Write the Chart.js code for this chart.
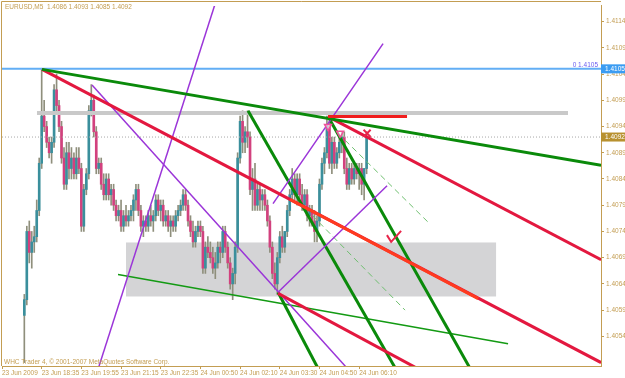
<!DOCTYPE html>
<html>
<head>
<meta charset="utf-8">
<script src="https://cdn.jsdelivr.net/npm/chart.js@4.4.1/dist/chart.umd.min.js"></script>
<style>
  html, body { margin: 0; padding: 0; background: #fff; }
  canvas { display: block; }
</style>
</head>
<body>
<canvas id="eurusdChart" width="625" height="378"></canvas>
<script>
// EURUSD M5 bars, first candle sits at bar 9
const firstBar = 9;
const opens = [
  1.4058,1.4061,1.4074,1.4070,1.4072,1.4073,1.4078,1.4087,1.4096,1.4094,
  1.4091,1.4089,1.4091,1.4101,1.4098,1.4094,1.4088,1.4083,1.4089,1.4086,
  1.4088,1.4085,1.4088,1.4086,1.4075,1.4082,1.4085,1.4097,1.4099,1.4093,
  1.4086,1.4087,1.4083,1.4081,1.4084,1.4081,1.4082,1.4079,1.4077,1.4078,
  1.4075,1.4077,1.4076,1.4077,1.4078,1.4080,1.4082,1.4078,1.4075,1.4076,
  1.4075,1.4077,1.4076,1.4077,1.4080,1.4078,1.4079,1.4076,1.4077,1.4075,
  1.4076,1.4075,1.4077,1.4078,1.4079,1.4081,1.4079,1.4076,1.4074,1.4072,
  1.4074,1.4075,1.4074,1.4067,1.4071,1.4070,1.4069,1.4067,1.4068,1.4071,
  1.4070,1.4074,1.4071,1.4068,1.4064,1.4066,1.4071,1.4088,1.4095,1.4091,
  1.4093,1.4092,1.4082,1.4084,1.4079,1.4082,1.4080,1.4081,1.4079,1.4076,
  1.4071,1.4066,1.4064,1.4069,1.4073,1.4071,1.4074,1.4078,1.4081,1.4084,
  1.4081,1.4084,1.4081,1.4079,1.4081,1.4077,1.4078,1.4076,1.4074,1.4076,
  1.4083,1.4087,1.4089,1.4094,1.4087,1.4091,1.4087,1.4089,1.4091,1.4092,
  1.4086,1.4083,1.4086,1.4084,1.4086,1.4085,1.4086,1.4083,1.4086
];
const highs = [
  1.4062,1.4075,1.4076,1.4074,1.4075,1.4080,1.4088,1.4105,1.4099,1.4095,
  1.4092,1.4092,1.4102,1.4104,1.4099,1.4095,1.4090,1.4091,1.4091,1.4090,
  1.4089,1.4090,1.4090,1.4087,1.4083,1.4086,1.4098,1.4102,1.4100,1.4094,
  1.4088,1.4088,1.4085,1.4085,1.4085,1.4083,1.4083,1.4080,1.4079,1.4080,
  1.4078,1.4079,1.4078,1.4079,1.4081,1.4083,1.4083,1.4079,1.4077,1.4077,
  1.4078,1.4079,1.4078,1.4081,1.4081,1.4080,1.4080,1.4078,1.4078,1.4077,
  1.4077,1.4078,1.4079,1.4080,1.4082,1.4082,1.4080,1.4077,1.4076,1.4075,
  1.4076,1.4076,1.4075,1.4072,1.4073,1.4072,1.4071,1.4070,1.4072,1.4072,
  1.4075,1.4075,1.4072,1.4069,1.4067,1.4072,1.4089,1.4096,1.4097,1.4094,
  1.4097,1.4093,1.4086,1.4087,1.4083,1.4083,1.4082,1.4082,1.4080,1.4077,
  1.4072,1.4068,1.4070,1.4074,1.4075,1.4074,1.4079,1.4082,1.4086,1.4085,
  1.4085,1.4085,1.4083,1.4082,1.4082,1.4079,1.4079,1.4078,1.4077,1.4084,
  1.4088,1.4090,1.4096,1.4095,1.4092,1.4092,1.4090,1.4092,1.4093,1.4093,
  1.4088,1.4087,1.4087,1.4087,1.4087,1.4087,1.4087,1.4086,1.4093
];
const lows = [
  1.4049,1.4060,1.4068,1.4067,1.4070,1.4072,1.4077,1.4086,1.4093,1.4090,
  1.4088,1.4087,1.4090,1.4097,1.4093,1.4087,1.4082,1.4082,1.4084,1.4084,
  1.4084,1.4084,1.4085,1.4074,1.4074,1.4081,1.4084,1.4096,1.4092,1.4085,
  1.4085,1.4082,1.4080,1.4080,1.4080,1.4079,1.4078,1.4076,1.4076,1.4074,
  1.4074,1.4075,1.4075,1.4076,1.4076,1.4078,1.4077,1.4074,1.4073,1.4074,
  1.4074,1.4075,1.4074,1.4076,1.4077,1.4076,1.4075,1.4075,1.4074,1.4073,
  1.4074,1.4074,1.4076,1.4077,1.4078,1.4078,1.4075,1.4073,1.4071,1.4071,
  1.4073,1.4073,1.4066,1.4066,1.4069,1.4068,1.4066,1.4065,1.4067,1.4068,
  1.4069,1.4070,1.4067,1.4063,1.4061,1.4064,1.4070,1.4087,1.4089,1.4089,
  1.4090,1.4081,1.4078,1.4078,1.4078,1.4078,1.4078,1.4078,1.4075,1.4070,
  1.4065,1.4063,1.4062,1.4068,1.4070,1.4070,1.4073,1.4077,1.4080,1.4080,
  1.4079,1.4080,1.4078,1.4078,1.4076,1.4075,1.4075,1.4072,1.4072,1.4075,
  1.4082,1.4085,1.4088,1.4086,1.4085,1.4086,1.4086,1.4088,1.4089,1.4085,
  1.4082,1.4082,1.4083,1.4083,1.4084,1.4082,1.4081,1.4080,1.4085
];
const closes = [
  1.4061,1.4074,1.4070,1.4072,1.4073,1.4078,1.4087,1.4096,1.4094,1.4091,
  1.4089,1.4091,1.4101,1.4098,1.4094,1.4088,1.4083,1.4089,1.4086,1.4088,
  1.4085,1.4088,1.4086,1.4075,1.4082,1.4085,1.4097,1.4099,1.4093,1.4086,
  1.4087,1.4083,1.4081,1.4084,1.4081,1.4082,1.4079,1.4077,1.4078,1.4075,
  1.4077,1.4076,1.4077,1.4078,1.4080,1.4082,1.4078,1.4075,1.4076,1.4075,
  1.4077,1.4076,1.4077,1.4080,1.4078,1.4079,1.4076,1.4077,1.4075,1.4076,
  1.4075,1.4077,1.4078,1.4079,1.4081,1.4079,1.4076,1.4074,1.4072,1.4074,
  1.4075,1.4074,1.4067,1.4071,1.4070,1.4069,1.4067,1.4068,1.4071,1.4070,
  1.4074,1.4071,1.4068,1.4064,1.4066,1.4071,1.4088,1.4095,1.4091,1.4093,
  1.4092,1.4082,1.4084,1.4079,1.4082,1.4080,1.4081,1.4079,1.4076,1.4071,
  1.4066,1.4064,1.4069,1.4073,1.4071,1.4074,1.4078,1.4081,1.4084,1.4081,
  1.4084,1.4081,1.4079,1.4081,1.4077,1.4078,1.4076,1.4074,1.4076,1.4083,
  1.4087,1.4089,1.4094,1.4087,1.4091,1.4087,1.4089,1.4091,1.4092,1.4086,
  1.4083,1.4086,1.4084,1.4086,1.4085,1.4086,1.4083,1.4086,1.4092
];

// axes
const xTickBars = [0, 16, 32, 48, 64, 80, 96, 112, 128, 144];
const xTickLabels = ["23 Jun 2009", "23 Jun 18:35", "23 Jun 19:55", "23 Jun 21:15", "23 Jun 22:35",
  "24 Jun 00:50", "24 Jun 02:10", "24 Jun 03:30", "24 Jun 04:50", "24 Jun 06:10"];
const priceTicks = [1.4054, 1.4059, 1.4064, 1.4069, 1.4074, 1.4079, 1.4084, 1.4089, 1.4094, 1.4099, 1.4104, 1.4109, 1.4114];
const priceMin = 1.404835;
const priceMax = 1.41170;
const barMax = 241.5;

// price levels
const levelPrice = 1.4105;
const bidPrice = 1.4092;
const resistance = [[14.1, 1.40966], [228.2, 1.40966]];
const topMark = [[131.45, 1.40959], [163.3, 1.40959]];

// trend lines: [bar, price] end points
const redMain = [[16.13, 1.41049], [241.53, 1.40490]];
const redOrange = [[116.13, 1.40801], [192.0, 1.40612]];
const greenMain = [[16.13, 1.41049], [241.53, 1.40866]];
const redUpper = [[131.45, 1.40959], [241.53, 1.40686]];
const redLower = [[111.29, 1.40622], [167.0, 1.40480]];
const purpleDown = [[36.29, 1.41019], [139.0, 1.40480]];
const purpleSteep = [[38.9, 1.40480], [86.0, 1.41175]];
const purpleChanLow = [[111.29, 1.40624], [155.24, 1.40827]];
const purpleChanHigh = [[109.27, 1.40793], [153.63, 1.41098]];
const greenFanA = [[99.19, 1.40970], [158.5, 1.40480]];
const greenFanB = [[131.45, 1.40959], [188.6, 1.40480]];
const greenFanC = [[111.29, 1.40624], [127.3, 1.40480]];
const greenBase = [[46.77, 1.40658], [204.03, 1.40526]];
const dashedA = [[138.31, 1.40914], [172.58, 1.40754]];
const dashedB = [[125.0, 1.40771], [162.5, 1.40590]];

// zone box and markers
const zoneBars = [50, 199.2];
const zonePrices = [1.40719, 1.40616];
const downArrows = [[131.45, 1.40940], [136.3, 1.40927]];
const crossMark = [[147.2, 1.40927]];
const checkMark = [[155.2, 1.40733], [156.9, 1.40720], [160.9, 1.40741]];

const gold = "#c39d52";
const fontFamily = "'Liberation Sans', Arial, sans-serif";

const pts = (arr) => arr.map(([x, y]) => ({ x: x, y: y }));
const bullColor = "#3a8f9c";
const bearColor = "#d2417e";

const bodies = opens.map((o, i) => ({ x: firstBar + i, y: [o, closes[i]] }));
const wicks = lows.map((l, i) => ({ x: firstBar + i, y: [l, highs[i]] }));

function trend(data, color, width, extra) {
  return Object.assign({
    type: "line",
    data: pts(data),
    borderColor: color,
    borderWidth: width,
    pointRadius: 0,
    fill: false,
    tension: 0,
    order: 1,
  }, extra || {});
}

const chartFrame = {
  id: "chartFrame",
  beforeDatasetsDraw(chart) {
    const { ctx, scales: { x, y } } = chart;
    const x0 = x.getPixelForValue(zoneBars[0]);
    const x1 = x.getPixelForValue(zoneBars[1]);
    const y0 = y.getPixelForValue(zonePrices[0]);
    const y1 = y.getPixelForValue(zonePrices[1]);
    ctx.save();
    ctx.fillStyle = "#d4d4d6";
    ctx.fillRect(x0, y0, x1 - x0, y1 - y0);
    ctx.restore();
  },
  afterDraw(chart) {
    const { ctx, chartArea, scales: { y } } = chart;
    ctx.save();
    // left and top frame
    ctx.strokeStyle = gold;
    ctx.lineWidth = 1;
    ctx.beginPath();
    ctx.moveTo(1.5, chartArea.bottom);
    ctx.lineTo(1.5, 1.5);
    ctx.lineTo(chartArea.right, 1.5);
    ctx.stroke();

    ctx.font = "6.5px " + fontFamily;
    ctx.textBaseline = "middle";
    ctx.fillStyle = gold;
    ctx.textAlign = "left";
    ctx.fillText("EURUSD,M5  1.4086 1.4093 1.4085 1.4092", 5, 7);
    ctx.fillText("WHC Trader 4, \u00a9 2001-2007 MetaQuotes Software Corp.", 4, 362);

    // level caption
    const ly = y.getPixelForValue(levelPrice);
    ctx.fillStyle = "#6a5cf0";
    ctx.textAlign = "right";
    ctx.fillText("0 1.4105", chartArea.right - 3, ly - 4);

    // price boxes on the axis
    const boxes = [[levelPrice, "#3b9cf2"], [bidPrice, "#b8912f"]];
    boxes.forEach(([p, c]) => {
      const py = y.getPixelForValue(p);
      ctx.fillStyle = c;
      ctx.fillRect(chartArea.right, py - 4.5, 625 - chartArea.right, 9);
      ctx.fillStyle = "#ffffff";
      ctx.textAlign = "left";
      ctx.fillText(p.toFixed(4), chartArea.right + 4, py);
    });
    ctx.restore();
  },
};

Chart.defaults.font.family = fontFamily;
Chart.defaults.font.size = 6.5;

const ctx = document.getElementById("eurusdChart").getContext("2d");
new Chart(ctx, {
  type: "bar",
  data: {
    datasets: [
      trend([[0, bidPrice], [barMax, bidPrice]], "#a8a8a8", 1, { borderDash: [1, 2], order: 9 }),
      trend([[0, levelPrice], [barMax, levelPrice]], "#62aef5", 2, { order: 8 }),
      trend(resistance, "#c9c9c9", 4, { order: 7 }),
      {
        label: "wicks",
        data: wicks,
        backgroundColor: "#8f8f7c",
        barThickness: 1,
        grouped: false,
        order: 12,
      },
      {
        label: "bodies",
        data: bodies,
        backgroundColor: (c) => (closes[c.dataIndex] >= opens[c.dataIndex] ? bullColor : bearColor),
        barThickness: 2,
        minBarLength: 1,
        grouped: false,
        order: 11,
      },
      trend(topMark, "#f01e1e", 3),
      trend(greenMain, "#0a8a0a", 3),
      trend(redMain, "#e3183f", 3),
      trend(redOrange, "#ff3b1f", 3, { order: 0 }),
      trend(redUpper, "#e3183f", 3),
      trend(redLower, "#e3183f", 3),
      trend(purpleDown, "#9b35d8", 1.5),
      trend(purpleSteep, "#9b35d8", 1.5),
      trend(purpleChanLow, "#9b35d8", 1.5),
      trend(purpleChanHigh, "#9b35d8", 1.5),
      trend(greenFanA, "#0a8a0a", 3),
      trend(greenFanB, "#0a8a0a", 3),
      trend(greenFanC, "#0a8a0a", 3),
      trend(greenBase, "#139a13", 1.5),
      trend(dashedA, "#6fbf6f", 1, { borderDash: [6, 4] }),
      trend(dashedB, "#6fbf6f", 1, { borderDash: [6, 4] }),
      trend(checkMark, "#e8254a", 2, { order: 0 }),
      {
        type: "scatter",
        data: pts(downArrows),
        pointStyle: "triangle",
        rotation: 180,
        pointRadius: 4,
        borderColor: "#f0529a",
        backgroundColor: "rgba(255,255,255,0.6)",
        borderWidth: 1.5,
        order: 0,
      },
      {
        type: "scatter",
        data: pts(crossMark),
        pointStyle: "crossRot",
        pointRadius: 5,
        borderColor: "#e8254a",
        borderWidth: 2,
        order: 0,
      },
    ],
  },
  options: {
    responsive: false,
    animation: false,
    devicePixelRatio: 1,
    layout: { autoPadding: false, padding: { left: 2, top: 2, right: 0, bottom: 0 } },
    plugins: {
      legend: { display: false },
      tooltip: { enabled: false },
    },
    scales: {
      x: {
        type: "linear",
        min: 0,
        max: barMax,
        offset: false,
        grid: { offset: false, drawOnChartArea: false, drawTicks: true, tickLength: 3, color: gold },
        border: { display: true, color: gold },
        afterBuildTicks: (axis) => {
          axis.ticks = xTickBars.map((v) => ({ value: v }));
        },
        afterFit: (axis) => {
          axis.height = 12;
        },
        ticks: {
          autoSkip: false,
          maxRotation: 0,
          align: "start",
          padding: 0,
          color: gold,
          callback: (v, i) => xTickLabels[i],
        },
      },
      y: {
        type: "linear",
        position: "right",
        min: priceMin,
        max: priceMax,
        beginAtZero: false,
        grid: { drawOnChartArea: false, drawTicks: true, tickLength: 3, color: gold },
        border: { display: true, color: gold },
        afterBuildTicks: (axis) => {
          axis.ticks = priceTicks.map((v) => ({ value: v }));
        },
        afterFit: (axis) => {
          axis.width = 24;
        },
        ticks: {
          padding: 2,
          color: gold,
          callback: (v) => Number(v).toFixed(4),
        },
      },
    },
  },
  plugins: [chartFrame],
});
</script>
</body>
</html>
